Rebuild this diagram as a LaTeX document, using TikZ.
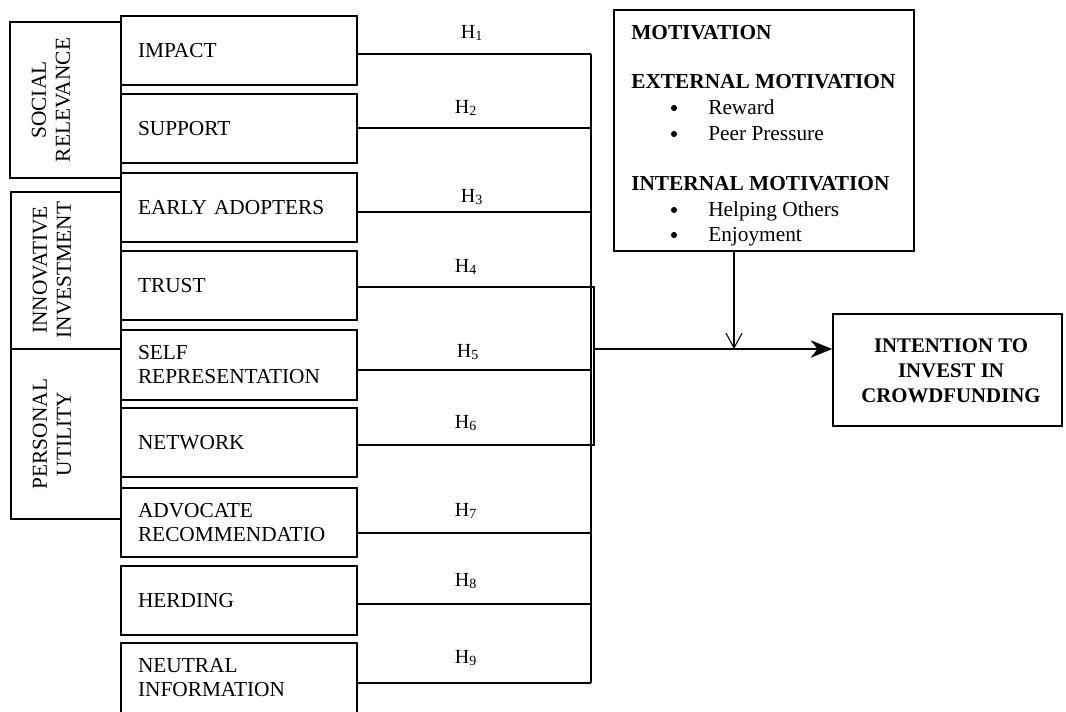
\documentclass[tikz,border=0pt]{standalone}
\usepackage{fontspec}
\setmainfont{Liberation Serif}
\usetikzlibrary{arrows.meta,calc}
\begin{document}
\begin{tikzpicture}[x=0.75pt,y=-0.75pt,
  box/.style={draw, line width=1.3pt, rectangle, minimum height=51.75pt,
    text width=151.5pt, inner xsep=12.75pt, inner ysep=0pt, align=left,
    font=\fontsize{16}{18}\selectfont},
  grpline/.style={draw, line width=1.3pt},
  grptext/.style={rotate=90, align=center, inner sep=0pt, font=\fontsize{16}{18}\selectfont},
  conn/.style={line width=1pt},
  mainarrow/.style={line width=1.7pt, -{Stealth[length=16pt,width=13pt,inset=5pt]}},
  marrow/.style={line width=0.8pt, -{Straight Barb[length=11pt,width=12pt]}},
  hlab/.style={anchor=base, inner sep=0pt, font=\fontsize{15}{18}\selectfont},
  mtxt/.style={anchor=base west, inner sep=0pt, font=\fontsize{16}{18}\selectfont},
  mhead/.style={mtxt, font=\bfseries\fontsize{16}{18}\selectfont},
  bul/.style={circle, fill=black, inner sep=0pt, minimum size=4.6pt}
]
\fill[white] (0,0) rectangle (1066,711);
\useasboundingbox (0,0) rectangle (1066,711);

% group boxes
\draw[grpline] (10,22) rectangle (121,178);
\draw[grpline] (11,192) rectangle (121,349);
\draw[grpline] (11,349) rectangle (121,519);
\node[grptext] (g1) at (51,100) {SOCIAL\\RELEVANCE};
\node[grptext] (g2) at (52,270) {INNOVATIVE\\INVESTMENT};
\node[grptext] (g3) at (52,434) {PERSONAL\\UTILITY};

% factor boxes
\node[box] (b1) at (239,50.5) {IMPACT};
\node[box] (b2) at (239,128.5) {SUPPORT};
\node[box] (b3) at (239,207.5) {EARLY ADOPTERS};
\node[box] (b4) at (239,285.5) {TRUST};
\node[box, minimum height=52.5pt] (b5) at (239,365) {SELF\\REPRESENTATION};
\node[box] (b6) at (239,442.5) {NETWORK};
\node[box] (b7) at (239,522.5) {ADVOCATE\\RECOMMENDATIO};
\node[box] (b8) at (239,600.5) {HERDING};
\node[box, minimum height=52.5pt] (b9) at (239,678) {NEUTRAL\\INFORMATION};

% connectors
\coordinate (bus) at (591,0);
\coordinate (junc) at (594,349);
\foreach \i/\s in {1/-3.5,2/0.5,3/-4.5,4/-1.5,5/-5,6/-2.5,7/-10.5,8/-3.5,9/-5}
  \draw[conn] ([yshift=\s*0.75pt]b\i.east) coordinate (s\i) -- (s\i -| bus);
\draw[conn] (s1 -| bus) -- (s9 -| bus);
\draw[conn] (s4 -| bus) -- (s4 -| junc) -- (s6 -| junc) -- (s6 -| bus);

% hypothesis labels
\node[hlab] (h1) at (472,38) {H\textsubscript{1}};
\node[hlab] (h2) at (466,113) {H\textsubscript{2}};
\node[hlab] (h3) at (472,202) {H\textsubscript{3}};
\node[hlab] (h4) at (466,272) {H\textsubscript{4}};
\node[hlab] (h5) at (468,357) {H\textsubscript{5}};
\node[hlab] (h6) at (466,428) {H\textsubscript{6}};
\node[hlab] (h7) at (466,516) {H\textsubscript{7}};
\node[hlab] (h8) at (466,586) {H\textsubscript{8}};
\node[hlab] (h9) at (466,663) {H\textsubscript{9}};

% motivation box
\node[draw, line width=1.3pt, minimum width=225pt, minimum height=180.75pt, inner sep=0pt] (motiv) at (764,130.5) {};
\node[mhead] (mt1) at (631,39) {MOTIVATION};
\node[mhead] (mt2) at (631,88) {EXTERNAL MOTIVATION};
\node[bul] (d1) at (674,108) {};
\node[mtxt] (mt3) at (708,114) {Reward};
\node[bul] (d2) at (674,134) {};
\node[mtxt] (mt4) at (708,140) {Peer Pressure};
\node[mhead] (mt5) at (631,190) {INTERNAL MOTIVATION};
\node[bul] (d3) at (674,210) {};
\node[mtxt] (mt6) at (708,216) {Helping Others};
\node[bul] (d4) at (674,235) {};
\node[mtxt] (mt7) at (708,241) {Enjoyment};

% outcome
\node[draw, line width=1.3pt, minimum width=171.75pt, minimum height=84pt, inner sep=0pt] (intent) at (947.5,370) {};
\node[align=center, inner sep=0pt, font=\bfseries\fontsize{15.6}{18.6}\selectfont] (itxt) at (951,371) {INTENTION TO\\INVEST IN\\CROWDFUNDING};

\draw[mainarrow] (junc) -- (junc -| intent.west);
\draw[marrow] ([xshift=-22.5pt]motiv.south) coordinate (m0) -- (m0 |- junc);
\end{tikzpicture}
\end{document}
